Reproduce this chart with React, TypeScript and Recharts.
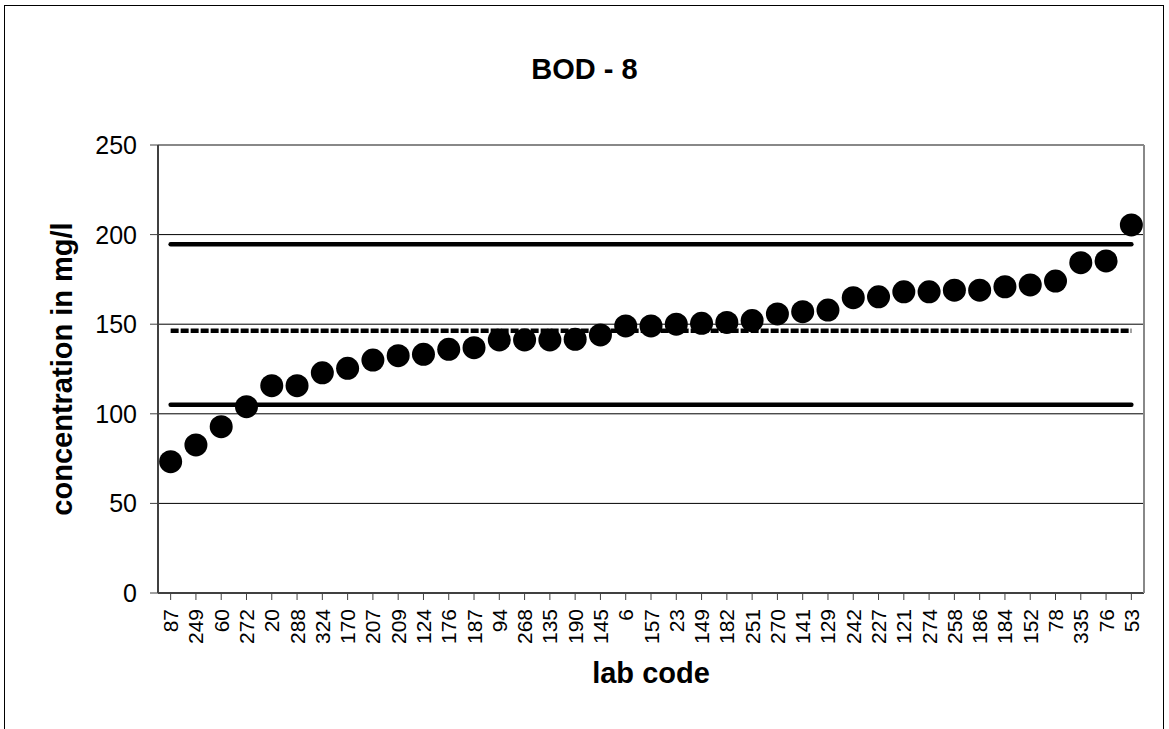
import { ComposedChart, Line, XAxis, YAxis, CartesianGrid, ReferenceLine } from 'recharts'

const labCodes = [
  '87', '249', '60', '272', '20', '288', '324', '170', '207', '209', '124', '176', '187',
  '94', '268', '135', '190', '145', '6', '157', '23', '149', '182', '251', '270', '141',
  '129', '242', '227', '121', '274', '258', '186', '184', '152', '78', '335', '76', '53',
]

const concentrations = [
  73.3, 82.6, 92.8, 104, 115.7, 115.7, 122.9, 125.4, 130, 132.4, 133.2, 136, 136.9,
  141.2, 141.2, 141.2, 141.6, 144, 149, 149, 150, 150.5, 151, 152, 155.7, 157,
  157.9, 164.8, 165.3, 168.1, 168.1, 169, 169, 170.9, 171.9, 174.1, 184.3, 185.3, 205.4,
]

const yTicks = [0, 50, 100, 150, 200, 250]

const upperLimit = 194.6
const assignedValue = 146.4
const lowerLimit = 105.1

const FONT = '"Liberation Sans", Arial, sans-serif'

const data = labCodes.map((lab, i) => ({
  lab,
  value: concentrations[i],
  upper: upperLimit,
  mean: assignedValue,
  lower: lowerLimit,
}))

// eslint-disable-next-line @typescript-eslint/no-explicit-any
function XTick({ x, y, payload }: any) {
  return (
    <g transform={`translate(${x},${y + 7})`}>
      <text transform="rotate(-90)" textAnchor="end" dominantBaseline="central" fontSize={21} fontFamily={FONT} fill="#000">
        {payload.value}
      </text>
    </g>
  )
}

// eslint-disable-next-line @typescript-eslint/no-explicit-any
function YTick({ x, y, payload }: any) {
  return (
    <text x={x - 11} y={y} textAnchor="end" dominantBaseline="central" fontSize={25} fontFamily={FONT} fill="#000">
      {payload.value}
    </text>
  )
}

// eslint-disable-next-line @typescript-eslint/no-explicit-any
function XTitle({ viewBox }: any) {
  return (
    <text x={viewBox.x + viewBox.width / 2} y={683} textAnchor="middle" fontSize={29} fontWeight="bold" fontFamily={FONT} fill="#000">
      lab code
    </text>
  )
}

// eslint-disable-next-line @typescript-eslint/no-explicit-any
function YTitle({ viewBox }: any) {
  const cy = viewBox.y + viewBox.height / 2
  return (
    <text transform={`translate(72,${cy}) rotate(-90)`} textAnchor="middle" fontSize={29} fontWeight="bold" fontFamily={FONT} fill="#000">
      concentration in mg/l
    </text>
  )
}

export default function App() {
  return (
    <>
      <style>{'html, body { margin: 0; padding: 0; background: #fff; }'}</style>
      <div style={{ position: 'relative', width: 1169, height: 729, overflow: 'hidden', background: '#fff' }}>
        {/* outer chart frame, open at the bottom */}
        <div
          style={{
            position: 'absolute', left: 4, top: 5, width: 1160, height: 760,
            borderLeft: '1px solid #000', borderTop: '1px solid #000', borderRight: '1px solid #000',
            boxSizing: 'border-box',
          }}
        />
        <div
          style={{
            position: 'absolute', left: 0, top: 51, width: 1169, textAlign: 'center',
            fontFamily: FONT, fontWeight: 'bold', fontSize: 29, lineHeight: '36px', color: '#000',
          }}
        >
          BOD - 8
        </div>
        <div style={{ position: 'absolute', left: 0, top: 0 }}>
          <ComposedChart width={1169} height={729} data={data} margin={{ top: 145, right: 24, bottom: 0, left: 0 }}>
            <CartesianGrid vertical={false} stroke="#000" strokeWidth={1} />
            <XAxis
              dataKey="lab"
              type="category"
              scale="band"
              interval={0}
              height={136}
              tickSize={7}
              tick={<XTick />}
              axisLine={{ stroke: '#404040', strokeWidth: 2 }}
              tickLine={{ stroke: '#404040' }}
              label={<XTitle />}
            />
            <YAxis
              domain={[0, 250]}
              ticks={yTicks}
              width={158}
              tickSize={8}
              tick={<YTick />}
              axisLine={{ stroke: '#404040', strokeWidth: 2 }}
              tickLine={{ stroke: '#404040' }}
              label={<YTitle />}
            />
            <YAxis
              yAxisId="frame"
              orientation="right"
              domain={[0, 250]}
              ticks={yTicks}
              width={1}
              tick={false}
              tickLine={false}
              axisLine={{ stroke: '#888', strokeWidth: 2 }}
            />
            <ReferenceLine y={250} stroke="#888" strokeWidth={2} />
            <Line yAxisId="frame" dataKey="upper" stroke="#000" strokeWidth={4.5} strokeLinecap="round" dot={false} activeDot={false} isAnimationActive={false} />
            <Line yAxisId="frame" dataKey="lower" stroke="#000" strokeWidth={4.5} strokeLinecap="round" dot={false} activeDot={false} isAnimationActive={false} />
            <Line yAxisId="frame" dataKey="mean" stroke="#000" strokeWidth={4.5} strokeDasharray="8 2" dot={false} activeDot={false} isAnimationActive={false} />
            <Line
              dataKey="value"
              stroke="none"
              dot={{ r: 11.5, fill: '#000', stroke: 'none' }}
              activeDot={false}
              isAnimationActive={false}
            />
          </ComposedChart>
        </div>
      </div>
    </>
  )
}
